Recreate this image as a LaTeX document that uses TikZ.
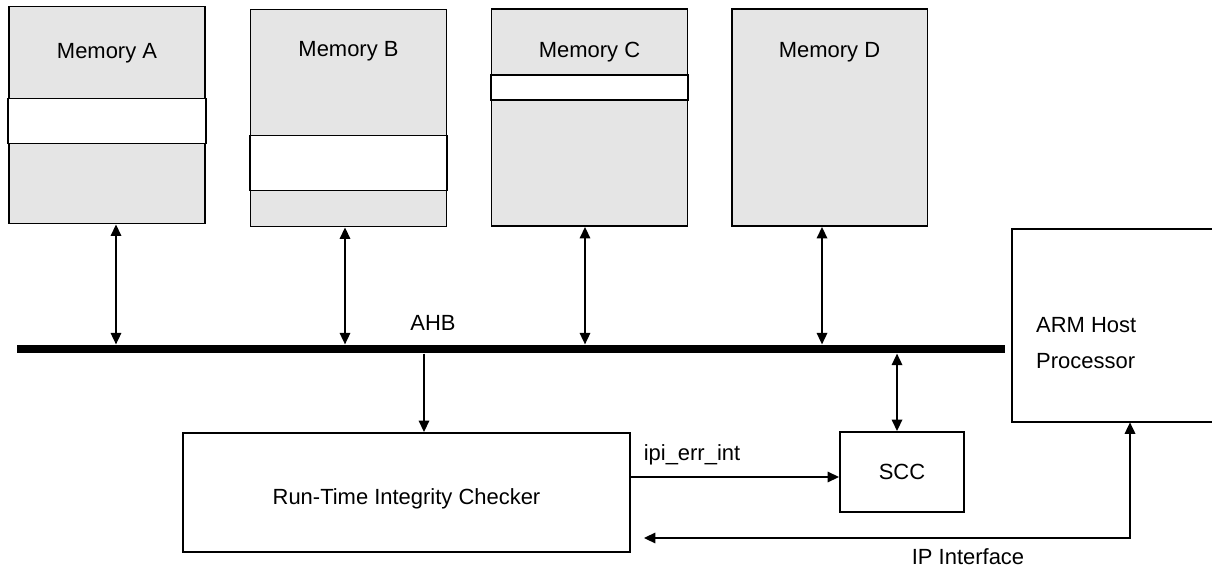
\documentclass[tikz,border=0pt]{standalone}
\usepackage{fontspec}
\setmainfont{Liberation Sans}
\usetikzlibrary{arrows.meta,positioning}

\begin{document}
\begin{tikzpicture}[x=0.02cm,y=-0.02cm,>={Triangle[length=2.3mm,width=2.1mm]},
  txt/.style={font=\fontsize{12.5}{14}\selectfont},
  membox/.style={draw,line width=1.1pt,fill=gray!20,minimum width=3.92cm,minimum height=4.34cm,inner sep=0},
  blk/.style={draw,line width=1.1pt,inner sep=0},
  sig/.style={->,line width=0.95pt},
  bidir/.style={<->,line width=0.95pt}]
  \useasboundingbox (0,0) rectangle (1212,567);
  % memories, with their white bands
  \node[membox] (memA) at (107,115) {};
  \node[membox] (memB) at (348.5,118) {};
  \node[membox] (memC) at (589.5,117.5) {};
  \node[membox] (memD) at (829.5,117.5) {};
  \foreach \m/\a/\b in {A/1.86/2.76,B/2.54/3.64,C/1.34/1.84}
    \draw[line width=1.1pt,fill=white] ([yshift=-\a cm]mem\m.north west) rectangle ([yshift=-\b cm]mem\m.north east);
  \foreach \m/\dy in {A/0.96,B/0.86,C/0.88,D/0.88}
    \node[txt] (lab\m) at ([yshift=-\dy cm]mem\m.north) {Memory \m};
  % AHB bus
  \node[fill=black,minimum width=19.76cm,minimum height=0.17cm,inner sep=0] (bus) at (511,349) {};
  \node[txt] (ahb) at (433,323) {AHB};
  \foreach \m/\dx in {A/0.18,B/-0.07,C/-0.09,D/-0.15}
    \draw[bidir] ([xshift=\dx cm]mem\m.south) -- ([xshift=\dx cm]mem\m.south |- bus.north);
  % checker, SCC and host
  \node[blk,minimum width=8.94cm,minimum height=2.38cm] (rtic) at (406.5,492.5) {};
  \node[txt] (rticlab) at (406.5,499) {Run-Time Integrity Checker};
  \node[blk,txt,minimum width=2.48cm,minimum height=1.6cm] (scc) at (902,472) {SCC};
  \node[minimum width=4cm,minimum height=3.86cm,inner sep=0] (arm) at (1112,325.5) {};
  \draw[line width=1.1pt] (arm.north east) -- (arm.north west) -- (arm.south west) -- (arm.south east);
  \node[align=left,anchor=west,font=\fontsize{12.5}{20}\selectfont] (armtxt) at (1030,343) {ARM Host\\Processor};
  \draw[sig] ([xshift=0.35cm]rtic.north |- bus.south) -- ([xshift=0.35cm]rtic.north);
  \draw[bidir] ([xshift=-0.1cm]scc.north |- bus.south) -- ([xshift=-0.1cm]scc.north);
  \draw[sig] ([yshift=-0.1cm]rtic.east |- scc.west) -- ([yshift=-0.1cm]scc.west);
  \node[txt] (err) at (692,455) {ipi\_err\_int};
  % IP interface
  \coordinate (iplvl) at (0,538);
  \draw[bidir] ([xshift=0.26cm]rtic.east |- iplvl) -| ([xshift=0.36cm]arm.south);
  \node[txt] (ipif) at (968,557) {IP Interface};
\end{tikzpicture}
\end{document}
